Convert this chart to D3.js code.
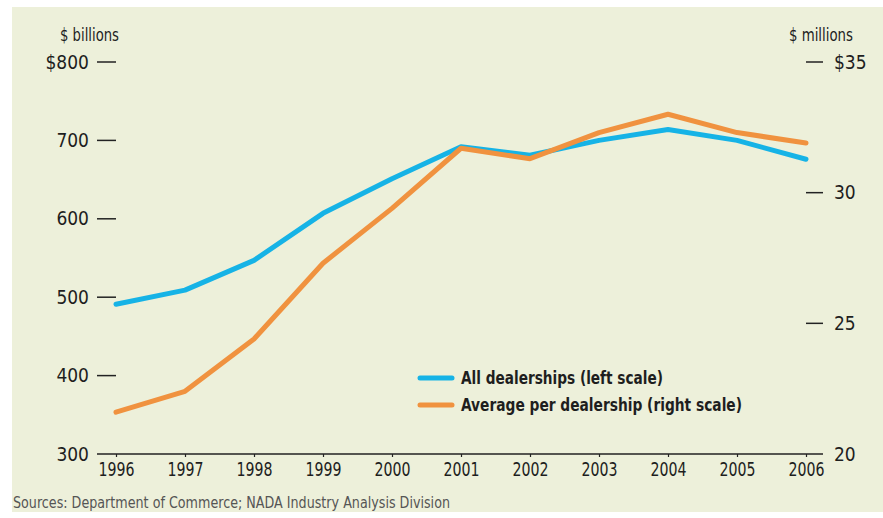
<!DOCTYPE html>
<html>
<head>
<meta charset="utf-8">
<script src="https://cdn.jsdelivr.net/npm/d3@7"></script>
<style>
  body { margin: 0; background: #fff; }
  text { font-family: "Liberation Sans Narrow", "DejaVu Sans Condensed", "Arial Narrow", sans-serif; fill: #1e1e1e; }
</style>
</head>
<body>
<div id="vis-holder"></div>
<script>
// Data
const years = [1996, 1997, 1998, 1999, 2000, 2001, 2002, 2003, 2004, 2005, 2006];
const allDealerships = [491, 509, 547, 607, 651, 692, 681, 700, 714, 700, 676];        // $ billions, left scale
const avgPerDealership = [21.6, 22.4, 24.4, 27.3, 29.4, 31.7, 31.3, 32.3, 33.0, 32.3, 31.9]; // $ millions, right scale
const leftTicks = [300, 400, 500, 600, 700, 800];
const rightTicks = [20, 25, 30, 35];
const seriesNames = ["All dealerships (left scale)", "Average per dealership (right scale)"];
const sourceNote = "Sources: Department of Commerce; NADA Industry Analysis Division";

const width = 883;
const height = 518;
const margin = { top: 62, right: 77, bottom: 64, left: 116 };

const svg = d3.select("#vis-holder")
  .append("svg")
  .attr("width", width)
  .attr("height", height);

// Panel background
svg.append("rect")
  .attr("x", 12).attr("y", 7)
  .attr("width", width - 12).attr("height", 505)
  .attr("fill", "#edf0da");

// Scales
const x = d3.scalePoint()
  .domain(years)
  .range([margin.left, width - margin.right]);

const yLeft = d3.scaleLinear()
  .domain([300, 800])
  .range([height - margin.bottom, margin.top]);

const yRight = d3.scaleLinear()
  .domain([20, 35])
  .range([height - margin.bottom, margin.top]);

const fmtLeft = (d) => d === 800 ? "$800" : d;
const fmtRight = (d) => d === 35 ? "$35" : d;

// Left axis: labels with dash ticks
const gLeft = svg.append("g")
  .attr("transform", `translate(${margin.left}, 0)`);
gLeft.selectAll("line")
  .data(leftTicks.filter((d) => d !== 300))
  .enter().append("line")
  .attr("x1", -19).attr("x2", 0)
  .attr("y1", (d) => yLeft(d)).attr("y2", (d) => yLeft(d))
  .attr("stroke", "#222").attr("stroke-width", 1.5);
gLeft.selectAll("text")
  .data(leftTicks)
  .enter().append("text")
  .attr("x", -27)
  .attr("y", (d) => yLeft(d))
  .attr("dy", "0.35em")
  .attr("text-anchor", "end")
  .attr("font-size", "19px")
  .text(fmtLeft);

// Right axis
const gRight = svg.append("g")
  .attr("transform", `translate(${width - margin.right}, 0)`);
gRight.selectAll("line")
  .data(rightTicks.filter((d) => d !== 20))
  .enter().append("line")
  .attr("x1", 0).attr("x2", 17)
  .attr("y1", (d) => yRight(d)).attr("y2", (d) => yRight(d))
  .attr("stroke", "#222").attr("stroke-width", 1.5);
gRight.selectAll("text")
  .data(rightTicks)
  .enter().append("text")
  .attr("x", 28)
  .attr("y", (d) => yRight(d))
  .attr("dy", "0.35em")
  .attr("font-size", "19px")
  .text(fmtRight);

// Unit labels
svg.append("text")
  .attr("x", 60).attr("y", 41)
  .attr("font-size", "17px")
  .attr("textLength", 59).attr("lengthAdjust", "spacingAndGlyphs")
  .text("$ billions");
svg.append("text")
  .attr("x", 789).attr("y", 41)
  .attr("font-size", "17px")
  .attr("textLength", 64).attr("lengthAdjust", "spacingAndGlyphs")
  .text("$ millions");

// Bottom axis
const xAxis = d3.axisBottom(x).tickSize(3).tickPadding(6);
const gx = svg.append("g")
  .attr("transform", `translate(0, ${height - margin.bottom})`)
  .call(xAxis);
gx.select(".domain").remove();
gx.append("line")
  .attr("x1", margin.left - 19).attr("x2", width - margin.right + 17)
  .attr("stroke", "#222").attr("stroke-width", 1.5);
gx.selectAll(".tick line").attr("stroke", "#222").attr("stroke-width", 1.2);
gx.selectAll(".tick text")
  .attr("font-size", "19px")
  .attr("font-family", "'Liberation Sans Narrow', 'DejaVu Sans Condensed', sans-serif")
  .attr("fill", "#1e1e1e")
  .attr("textLength", 36).attr("lengthAdjust", "spacingAndGlyphs");

// Lines
const lineLeft = d3.line()
  .x((d, i) => x(years[i]))
  .y((d) => yLeft(d));
const lineRight = d3.line()
  .x((d, i) => x(years[i]))
  .y((d) => yRight(d));

const blue = "#16b3e6";
const orange = "#f0923f";

svg.append("path")
  .datum(allDealerships)
  .attr("d", lineLeft)
  .attr("fill", "none")
  .attr("stroke", blue)
  .attr("stroke-width", 5)
  .attr("stroke-linecap", "round")
  .attr("stroke-linejoin", "round");

svg.append("path")
  .datum(avgPerDealership)
  .attr("d", lineRight)
  .attr("fill", "none")
  .attr("stroke", orange)
  .attr("stroke-width", 5)
  .attr("stroke-linecap", "round")
  .attr("stroke-linejoin", "round");

// Legend
const legendWidths = [202, 281];
const legend = svg.append("g").attr("transform", "translate(420, 378)");
[blue, orange].forEach((c, i) => {
  legend.append("line")
    .attr("x1", 0).attr("x2", 32)
    .attr("y1", i * 27).attr("y2", i * 27)
    .attr("stroke", c).attr("stroke-width", 5)
    .attr("stroke-linecap", "round");
  legend.append("text")
    .attr("x", 41).attr("y", i * 27)
    .attr("dy", "0.35em")
    .attr("font-size", "18px")
    .attr("font-weight", "bold")
    .attr("textLength", legendWidths[i]).attr("lengthAdjust", "spacingAndGlyphs")
    .text(seriesNames[i]);
});

// Source
svg.append("text")
  .attr("x", 13).attr("y", 508)
  .attr("font-size", "15px")
  .attr("textLength", 437).attr("lengthAdjust", "spacingAndGlyphs")
  .style("fill", "#555")
  .text(sourceNote);
</script>
</body>
</html>
